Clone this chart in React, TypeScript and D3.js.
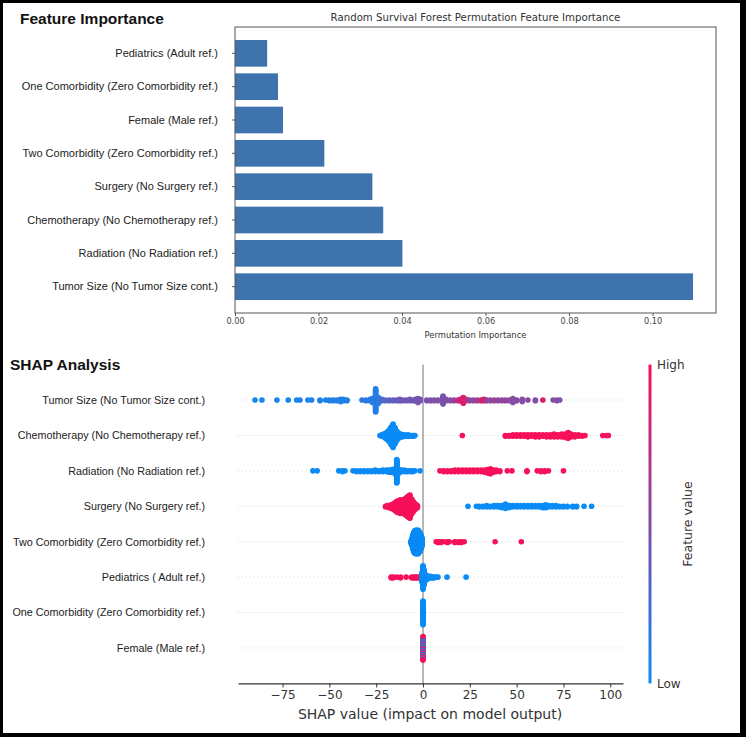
import React, { useEffect, useRef } from 'react';
import * as d3 from 'd3';

const W = 746;
const H = 737;

// Random survival forest permutation importance, listed top to bottom
const importanceLabels = [
  'Pediatrics (Adult ref.)',
  'One Comorbidity (Zero Comorbidity ref.)',
  'Female (Male ref.)',
  'Two Comorbidity (Zero Comorbidity ref.)',
  'Surgery (No Surgery ref.)',
  'Chemotherapy (No Chemotherapy ref.)',
  'Radiation (No Radiation ref.)',
  'Tumor Size (No Tumor Size cont.)',
];
const importanceValues = [0.0077, 0.0103, 0.0115, 0.0214, 0.0329, 0.0355, 0.0401, 0.1097];
const importanceTicks = [0, 0.02, 0.04, 0.06, 0.08, 0.1];

// SHAP summary, listed top to bottom
const shapLabels = [
  'Tumor Size (No Tumor Size cont.)',
  'Chemotherapy (No Chemotherapy ref.)',
  'Radiation (No Radiation ref.)',
  'Surgery (No Surgery ref.)',
  'Two Comorbidity (Zero Comorbidity ref.)',
  'Pediatrics ( Adult ref.)',
  'One Comorbidity (Zero Comorbidity ref.)',
  'Female (Male ref.)',
];
const shapTicks = [-75, -50, -25, 0, 25, 50, 75, 100];

// [shap value, feature value 0 (low) .. 1 (high), number of samples]
type Stack = [number, number, number];

const tumorSize: Stack[] = [
  [-89.7, 0.05, 1], [-86, 0.05, 1], [-78, 0.05, 1], [-72, 0.05, 1], [-67.5, 0.05, 1],
  [-65.7, 0.08, 1], [-61.5, 0.05, 1], [-59.5, 0.08, 1], [-55, 0.08, 2], [-52, 0.08, 1],
  [-50, 0.1, 2], [-48, 0.08, 2], [-46, 0.1, 2], [-44, 0.1, 4], [-42.5, 0.1, 3], [-40.6, 0.1, 2],
  [-32.6, 0.12, 1], [-30.5, 0.12, 2], [-28.3, 0.15, 3], [-27, 0.12, 6], [-25.3, 0.1, 30],
  [-23.8, 0.15, 8], [-22, 0.25, 3], [-20, 0.3, 2], [-18, 0.35, 2], [-16, 0.35, 2],
  [-14, 0.38, 2], [-12.5, 0.4, 3], [-11, 0.4, 2], [-9, 0.42, 2], [-7, 0.45, 3], [-5, 0.45, 2],
  [-4, 0.4, 3], [-2.7, 0.45, 6], [-1.5, 0.45, 3], [2, 0.45, 2], [4, 0.5, 2], [6, 0.5, 2],
  [8, 0.5, 2], [10.7, 0.45, 11], [12.3, 0.5, 3], [14.5, 0.5, 2], [16.5, 0.6, 2],
  [18.7, 0.75, 2], [20, 0.85, 3], [21.5, 0.9, 8], [23, 0.8, 3], [25, 0.6, 2], [27, 0.55, 2],
  [29, 0.6, 2], [31, 0.8, 2], [32.5, 0.9, 3], [34, 0.6, 2], [36, 0.55, 2], [38, 0.6, 2],
  [40, 0.55, 2], [42, 0.55, 2], [44, 0.6, 2], [46, 0.55, 2], [48, 0.5, 6], [50, 0.55, 2],
  [53, 0.5, 4], [56, 0.55, 1], [60, 0.5, 2], [64, 0.9, 1], [69.5, 0.5, 1], [71.5, 0.5, 2],
  [73, 0.5, 1],
];

const chemotherapy: Stack[] = [
  [-23, 0, 1], [-22, 0, 3], [-21, 0, 5], [-20, 0, 8], [-19, 0, 12], [-18, 0, 18], [-17, 0, 26],
  [-16, 0, 34], [-15, 0, 24], [-14, 0, 14], [-13, 0, 8], [-12, 0, 5], [-11, 0, 4], [-10, 0, 3],
  [-9, 0, 2], [-8, 0, 3], [-7, 0, 2], [-6, 0, 2], [-5, 0, 2], [-4.3, 0, 1],
  [21, 1, 1], [44, 1, 2], [46, 1, 2], [48, 1, 3], [50, 1, 3], [52, 1, 3], [54, 1, 3],
  [56, 1, 4], [58, 1, 3], [60, 1, 4], [62, 1, 4], [64, 1, 3], [66, 1, 4], [68, 1, 4],
  [70, 1, 5], [72, 1, 4], [74, 1, 5], [76, 1, 6], [77.5, 1, 9], [79, 1, 5], [81, 1, 4],
  [83, 1, 3], [85, 1, 2], [86.5, 1, 1], [96, 1, 1], [98, 1, 1], [99, 1, 1],
];

const radiation: Stack[] = [
  [-58.8, 0, 1], [-56.5, 0, 1], [-45, 0, 1], [-43, 0, 2], [-41.7, 0, 1], [-37.4, 0, 1],
  [-35.5, 0, 2], [-33.5, 0, 2], [-31.5, 0, 2], [-29.5, 0, 2], [-27.5, 0, 2], [-25.5, 0, 3],
  [-23.5, 0, 2], [-21.5, 0, 3], [-19.5, 0, 3], [-18, 0, 4], [-16.5, 0, 5], [-15, 0, 8],
  [-14, 0, 34], [-12.8, 0, 6], [-11.5, 0, 3], [-10, 0, 3], [-8.5, 0, 2], [-7, 0, 2],
  [-5.5, 0, 2], [-4.3, 0, 1], [-1.6, 0, 1],
  [9, 1, 1], [11, 1, 2], [13, 1, 2], [15, 1, 2], [17, 1, 3], [19, 1, 3], [21, 1, 3],
  [23, 1, 3], [25, 1, 3], [27, 1, 3], [29, 1, 3], [31, 1, 3], [33, 1, 4], [34.5, 1, 6],
  [36, 1, 8], [37.5, 1, 4], [39, 1, 3], [41, 1, 2], [45, 1, 1], [47.5, 1, 1], [55.5, 1, 2],
  [61, 1, 1], [63, 1, 2], [65, 1, 2], [67, 1, 1], [75, 1, 1],
];

const surgery: Stack[] = [
  [-20, 1, 2], [-19, 1, 3], [-18, 1, 4], [-17, 1, 6], [-16, 1, 8], [-15, 1, 12], [-14, 1, 16],
  [-13, 1, 18], [-12, 1, 20], [-11, 1, 18], [-10, 1, 22], [-9, 1, 26], [-8, 1, 30],
  [-7, 1, 34], [-6, 1, 22], [-5, 1, 14], [-4, 1, 8], [-3, 1, 4],
  [24, 0, 1], [28.5, 0, 1], [30, 0, 2], [32, 0, 2], [34, 0, 3], [36, 0, 2], [38, 0, 3],
  [40, 0, 3], [42, 0, 4], [44, 0, 7], [46, 0, 4], [48, 0, 3], [50, 0, 3], [52, 0, 3],
  [54, 0, 3], [56, 0, 3], [58, 0, 3], [60, 0, 3], [62, 0, 3], [64, 0, 4], [65.5, 0, 5],
  [67, 0, 3], [69, 0, 3], [71, 0, 3], [73, 0, 2], [75, 0, 2], [77, 0, 2], [80, 0, 2],
  [82, 0, 2], [86, 0, 1], [90, 0, 1],
];

const twoComorbidity: Stack[] = [
  [-6.4, 0, 4], [-6, 0, 10], [-5.5, 0, 20], [-5, 0, 28], [-4.5, 0, 32], [-4, 0, 34],
  [-3.5, 0, 34], [-3, 0, 34], [-2.5, 0, 34], [-2, 0, 30], [-1.5, 0, 26], [-1, 0, 20],
  [-0.5, 0, 12],
  [7, 1, 1], [8, 1, 2], [9.5, 1, 2], [11, 1, 1], [13, 1, 2], [14, 1, 1], [17, 1, 2],
  [19, 1, 2], [20.5, 1, 2], [22, 1, 1], [38.5, 1, 1], [52.5, 1, 1],
];

const pediatrics: Stack[] = [
  [-17, 1, 2], [-16, 1, 2], [-14, 1, 1], [-12, 1, 2], [-9, 1, 1], [-6, 1, 2], [-5, 1, 2],
  [-4, 1, 2], [-3, 1, 2], [-2, 1, 2], [-1, 1, 2],
  [-0.5, 0, 14], [0, 0, 34], [0.6, 0, 22], [1.2, 0, 10], [2, 0, 6], [3, 0, 4], [4, 0, 3],
  [5, 0, 2], [6, 0, 2], [7, 0, 1], [8, 0, 1], [12.8, 0, 1], [23, 0, 1],
];

const oneComorbidity: Stack[] = [[0, 0, 40]];

const female: Stack[] = [
  [0, 0, 4], [0, 1, 3], [0, 0, 3], [0, 1, 4], [0, 0, 3], [0, 1, 3],
  [0, 0, 4], [0, 1, 4], [0, 0, 3], [0, 1, 3], [0, 0, 3], [0, 1, 3],
];

const shapRows = [tumorSize, chemotherapy, radiation, surgery, twoComorbidity, pediatrics, oneComorbidity, female];

// shap's red_blue colormap
const shapColor = d3.interpolateRgb('#0a8bf5', '#f7105a');

// Stack samples sharing a value, alternating above and below the row line
function beeswarm(stacks: Stack[]) {
  const pts: { v: number; fv: number; off: number }[] = [];
  d3.group(stacks, d => d[0]).forEach(group => {
    let layer = 0;
    group.forEach(([v, fv, n]) => {
      for (let k = 0; k < n; k++) {
        pts.push({ v, fv, off: Math.ceil(layer / 2) * (layer % 2 ? 1 : -1) });
        layer++;
      }
    });
  });
  const maxOff = d3.max(pts, p => Math.abs(p.off)) ?? 0;
  const s = (0.9 * 0.4) / (maxOff + 1);
  pts.forEach(p => (p.off *= s));
  return pts;
}

const mplFont = '"DejaVu Sans", sans-serif';
const labelFont = '"Liberation Sans", Arial, sans-serif';

const App: React.FC = () => {
  const ref = useRef<SVGSVGElement | null>(null);

  useEffect(() => {
    const svg = d3.select(ref.current);
    svg.selectAll('*').remove();

    // frame
    svg.append('rect').attr('width', W).attr('height', H).attr('fill', '#000');
    svg.append('rect').attr('x', 3).attr('y', 3).attr('width', 737).attr('height', 730).attr('fill', '#fff');

    // ---------- Feature importance ----------
    svg.append('text')
      .attr('x', 20).attr('y', 24)
      .attr('font-family', labelFont).attr('font-weight', 700).attr('font-size', 15.5)
      .attr('fill', '#111')
      .text('Feature Importance');

    const ax = { left: 235, right: 716, top: 27, bottom: 313 };
    const x = d3.scaleLinear().domain([0, 0.1152]).range([ax.left, ax.right]);
    const y = d3.scaleBand<string>()
      .domain(importanceLabels)
      .range([ax.top, ax.bottom])
      .paddingInner(0.2)
      .paddingOuter(0.39);

    svg.append('text')
      .attr('x', (ax.left + ax.right) / 2).attr('y', 21)
      .attr('text-anchor', 'middle')
      .attr('font-family', mplFont).attr('font-size', 10.2).attr('fill', '#333')
      .text('Random Survival Forest Permutation Feature Importance');

    svg.append('g')
      .selectAll('rect')
      .data(importanceLabels)
      .join('rect')
      .attr('x', x(0))
      .attr('y', d => y(d)!)
      .attr('width', (d, i) => x(importanceValues[i]) - x(0))
      .attr('height', y.bandwidth())
      .attr('fill', '#3f73ae');

    const gx = svg.append('g')
      .attr('transform', `translate(0,${ax.bottom})`)
      .call(d3.axisBottom(x).tickValues(importanceTicks).tickFormat(d3.format('.2f')).tickSize(3).tickSizeOuter(0));
    gx.select('.domain').remove();
    gx.selectAll('line').attr('stroke', '#555');
    gx.selectAll('text')
      .attr('font-family', mplFont).attr('font-size', 8.2).attr('fill', '#444').attr('dy', '0.6em');

    const gy = svg.append('g')
      .attr('transform', `translate(${ax.left},0)`)
      .call(d3.axisLeft(y).tickSize(3).tickSizeOuter(0).tickPadding(14));
    gy.select('.domain').remove();
    gy.selectAll('line').attr('stroke', '#555');
    gy.selectAll('text')
      .attr('font-family', labelFont).attr('font-size', 11).attr('fill', '#222');

    svg.append('rect')
      .attr('x', ax.left).attr('y', ax.top)
      .attr('width', ax.right - ax.left).attr('height', ax.bottom - ax.top)
      .attr('fill', 'none').attr('stroke', '#555').attr('stroke-width', 1);

    svg.append('text')
      .attr('x', (ax.left + ax.right) / 2).attr('y', 338)
      .attr('text-anchor', 'middle')
      .attr('font-family', mplFont).attr('font-size', 8.4).attr('fill', '#333')
      .text('Permutation Importance');

    // ---------- SHAP summary ----------
    svg.append('text')
      .attr('x', 10).attr('y', 370)
      .attr('font-family', labelFont).attr('font-weight', 700).attr('font-size', 15.5)
      .attr('fill', '#111')
      .text('SHAP Analysis');

    const sx = d3.scaleLinear().domain([-98.8, 106.8]).range([238, 623]);
    const sy = d3.scaleLinear().domain([-1, shapLabels.length]).range([683.4, 364.6]);
    const rowY = (i: number) => sy(shapLabels.length - 1 - i);

    // dotted row guides
    svg.append('g')
      .selectAll('line')
      .data(shapLabels)
      .join('line')
      .attr('x1', sx.range()[0]).attr('x2', sx.range()[1])
      .attr('y1', (d, i) => rowY(i)).attr('y2', (d, i) => rowY(i))
      .attr('stroke', '#cccccc').attr('stroke-width', 0.8).attr('stroke-dasharray', '1 3');

    // zero line
    svg.append('line')
      .attr('x1', sx(0)).attr('x2', sx(0))
      .attr('y1', sy.range()[1]).attr('y2', sy.range()[0])
      .attr('stroke', '#999').attr('stroke-width', 1.4);

    const rowStep = sy(0) - sy(1);
    shapRows.forEach((stacks, i) => {
      const pts = beeswarm(stacks);
      svg.append('g')
        .selectAll('circle')
        .data(pts)
        .join('circle')
        .attr('cx', d => sx(d.v))
        .attr('cy', d => rowY(i) + d.off * rowStep)
        .attr('r', 2.8)
        .attr('fill', d => shapColor(d.fv));
    });

    svg.append('g')
      .selectAll('text')
      .data(shapLabels)
      .join('text')
      .attr('x', 205)
      .attr('y', (d, i) => rowY(i) + 3.8)
      .attr('text-anchor', 'end')
      .attr('font-family', labelFont).attr('font-size', 10.8).attr('fill', '#222')
      .text(d => d);

    const sAxis = svg.append('g')
      .attr('transform', `translate(0,${sy.range()[0]})`)
      .call(d3.axisBottom(sx).tickValues(shapTicks).tickFormat(d3.format('d')).tickSize(4).tickSizeOuter(0).tickPadding(3));
    sAxis.select('.domain').attr('stroke', '#333').attr('stroke-width', 1.2);
    sAxis.selectAll('line').attr('stroke', '#333');
    sAxis.selectAll('text')
      .attr('font-family', mplFont).attr('font-size', 12).attr('fill', '#333');

    svg.append('text')
      .attr('x', 430).attr('y', 719)
      .attr('text-anchor', 'middle')
      .attr('font-family', mplFont).attr('font-size', 14).attr('fill', '#333')
      .text('SHAP value (impact on model output)');

    // colour bar
    const defs = svg.append('defs');
    const grad = defs.append('linearGradient')
      .attr('id', 'shap-cbar').attr('x1', 0).attr('x2', 0).attr('y1', 1).attr('y2', 0);
    d3.range(0, 1.0001, 0.1).forEach(t => {
      grad.append('stop').attr('offset', t).attr('stop-color', shapColor(t));
    });
    const cb = { x: 648.5, w: 3, top: sy.range()[1], bottom: sy.range()[0] };
    svg.append('rect')
      .attr('x', cb.x).attr('y', cb.top)
      .attr('width', cb.w).attr('height', cb.bottom - cb.top)
      .attr('fill', 'url(#shap-cbar)');

    svg.append('text')
      .attr('x', 657).attr('y', cb.top + 4.5)
      .attr('font-family', mplFont).attr('font-size', 12).attr('fill', '#333')
      .text('High');
    svg.append('text')
      .attr('x', 657).attr('y', cb.bottom + 4.5)
      .attr('font-family', mplFont).attr('font-size', 12).attr('fill', '#333')
      .text('Low');
    svg.append('text')
      .attr('transform', `translate(692,${(cb.top + cb.bottom) / 2}) rotate(-90)`)
      .attr('text-anchor', 'middle')
      .attr('font-family', mplFont).attr('font-size', 12.5).attr('fill', '#333')
      .text('Feature value');
  }, []);

  return (
    <div style={{ position: 'absolute', left: 0, top: 0 }}>
      <svg ref={ref} width={W} height={H} style={{ display: 'block' }} />
    </div>
  );
};

export default App;
